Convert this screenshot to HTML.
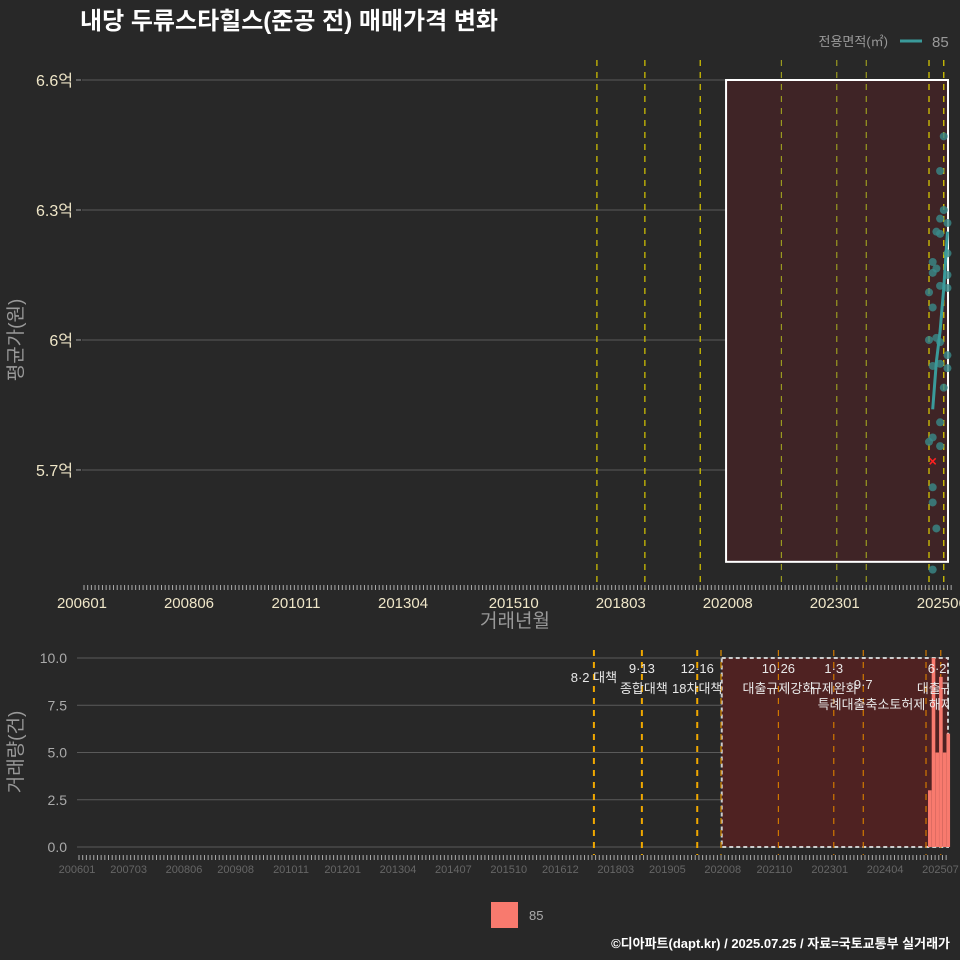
<!DOCTYPE html>
<html><head><meta charset="utf-8">
<style>
html,body{margin:0;padding:0;background:#282828;}
svg{display:block;font-family:"Liberation Sans","Noto Sans CJK KR",sans-serif;}
</style></head>
<body>
<svg id="c" width="960" height="960" viewBox="0 0 960 960">
<rect x="0" y="0" width="960" height="960" fill="#282828"/>
<text x="80" y="29" fill="#ffffff" font-size="24" font-weight="bold">내당 두류스타힐스(준공 전) 매매가격 변화</text>
<g>
<text x="888" y="46" fill="#999" font-size="13" text-anchor="end">전용면적(㎡)</text>
<line x1="900" y1="41" x2="922" y2="41" stroke="#3a9a9a" stroke-width="3"/>
<text x="932" y="47" fill="#999" font-size="15">85</text>
</g>
<g id="top"></g>
<g id="bot"></g>
<g>
<rect x="491" y="902" width="27" height="26" fill="#f87a6e"/>
<text x="529" y="920" fill="#aaa" font-size="13">85</text>
</g>
<text x="950" y="948" fill="#ffffff" font-size="13" font-weight="bold" text-anchor="end">©디아파트(dapt.kr) / 2025.07.25 / 자료=국토교통부 실거래가</text>
</svg>
<script>
// ---- data ----
const priceMonths = ["202506","202505","202506","202505","202507","202504","202505","202507","202503","202504","202503","202507","202505","202507","202502","202503","202502","202504","202505","202503","202505","202507","202507","202506","202505","202503","202502","202505","202503","202503","202504","202503"];
const priceValues = [6.47,6.39,6.30,6.28,6.27,6.25,6.245,6.20,6.18,6.165,6.155,6.15,6.125,6.12,6.11,6.075,6.0,6.005,5.995,5.94,5.945,5.965,5.935,5.89,5.81,5.775,5.765,5.755,5.66,5.625,5.565,5.47];
const cancelMonths = ["202503"];
const cancelValues = [5.72];
const trendMonths = ["202503","202504","202505","202506","202507"];
const trendValues = [5.84,5.95,6.02,6.12,6.25];
const volMonths = ["202502","202503","202504","202505","202506","202507"];
const volValues = [3,10,5,9,5,6];
const priceTicks = [5.7,6.0,6.3,6.6];
const priceTickLabels = ["5.7억","6억","6.3억","6.6억"];
const topXLabels = ["200601","200806","201011","201304","201510","201803","202008","202301","202506"];
const botXLabels = ["200601","200703","200806","200908","201011","201201","201304","201407","201510","201612","201803","201905","202008","202110","202301","202404","202507"];
const volTicks = [0,2.5,5,7.5,10];
const volTickLabels = ["0.0","2.5","5.0","7.5","10.0"];
const policyMonths = ["201708","201809","201912","202110","202301","202309","202502","202506"];
const policyTop = ["8·2","9·13","12·16","10·26","1·3","9·7","","6·27"];
const policyBottom = ["대책","종합대책","18차대책","대출규제강화","규제완화","특례대출축소토허제 해제","","대출규제"];

const NS="http://www.w3.org/2000/svg";
function el(parent,tag,attrs,text){const e=document.createElementNS(NS,tag);for(const k in attrs)e.setAttribute(k,attrs[k]);if(text!==undefined)e.textContent=text;parent.appendChild(e);return e;}
function idx(m){return (parseInt(m.slice(0,4))-2006)*12+(parseInt(m.slice(4))-1);}
const topG=document.getElementById('top'), botG=document.getElementById('bot');
const xT=m=>84+idx(m)*3.69;
const yT=v=>80+(6.6-v)*433.3;
const xB=m=>80+idx(m)*3.69;
const yB=v=>847-v*18.9;

// ---- top panel ----
priceTicks.forEach((t,i)=>{
  const g=el(topG,'line',{x1:82,x2:948,y1:yT(t),y2:yT(t),stroke:'#5a5a5a','stroke-width':1});
  
  
  const tk=el(topG,'line',{x1:76,x2:81,y1:yT(t),y2:yT(t),stroke:'#999'});
  
  
  const lb=el(topG,'text',{x:73,y:yT(t)+6,fill:'#efe6c8','font-size':16,'text-anchor':'end'},priceTickLabels[i]);
  
  
});
const rT=el(topG,'rect',{x:xT('202007'),y:yT(6.6),width:948-xT('202007'),height:yT(5.488)-yT(6.6),fill:'#3f2426',stroke:'#ffffff','stroke-width':2});


policyMonths.forEach((m,i)=>{
  const c=i<3?'#d8c800':(i>=6?'#e0d000':'#9a9a20');
  const l=el(topG,'line',{x1:xT(m),x2:xT(m),y1:60,y2:590,stroke:c,'stroke-width':1.2,'stroke-dasharray':'6,6'});
  
  
});
for(let i=0;i<=235;i++){
  const t=el(topG,'line',{x1:84+i*3.69,x2:84+i*3.69,y1:585,y2:590,stroke:'#aaa','stroke-width':1});
  
  
}
topXLabels.forEach(m=>{
  const t=el(topG,'text',{x:xT(m)-2,y:608,fill:'#efe6c8','font-size':15,'text-anchor':'middle'},m);
  
  
});
priceMonths.forEach((m,i)=>{
  const c=el(topG,'circle',{cx:xT(m),cy:yT(priceValues[i]),r:4,fill:'#3a8a8a','fill-opacity':0.8});
  
  
});
cancelMonths.forEach((m,i)=>{
  const x=xT(m),y=yT(cancelValues[i]);
  const p=el(topG,'path',{d:`M${x-3} ${y-3}L${x+3} ${y+3}M${x+3} ${y-3}L${x-3} ${y+3}`,stroke:'#ff2020','stroke-width':1.5});
  
  
});
const tl=el(topG,'polyline',{points:trendMonths.map((m,i)=>xT(m)+','+yT(trendValues[i])).join(' '),fill:'none',stroke:'#3a9a9a','stroke-width':3});


const ax1=el(topG,'text',{x:515,y:627,fill:'#999','font-size':19,'text-anchor':'middle'},'거래년월');


const ay1=el(topG,'text',{x:0,y:0,fill:'#999','font-size':19,'text-anchor':'middle',transform:'translate(22,340) rotate(-90)'},'평균가(원)');



// ---- bottom panel ----
volTicks.forEach((t,i)=>{
  const g=el(botG,'line',{x1:77,x2:948,y1:yB(t),y2:yB(t),stroke:'#5a5a5a'});
  
  
  const lb=el(botG,'text',{x:67,y:yB(t)+5,fill:'#aaa','font-size':14,'text-anchor':'end'},volTickLabels[i]);
  
  
});
const rB=el(botG,'rect',{x:xB('202008')-4,y:yB(10),width:948-xB('202008')+4,height:yB(0)-yB(10),fill:'#4f2222',stroke:'#cccccc','stroke-width':2,'stroke-dasharray':'4,3'});


const extra=el(botG,'line',{x1:721,x2:721,y1:650,y2:855,stroke:'#e09000','stroke-width':1.2,'stroke-dasharray':'6,6'});


policyMonths.forEach((m,i)=>{
  const c=i<3?'#f0a800':'#d07800';
  const l=el(botG,'line',{x1:xB(m)+1,x2:xB(m)+1,y1:650,y2:855,stroke:c,'stroke-width':i<3?2:1.2,'stroke-dasharray':'6,6'});
  
  
});
volMonths.forEach((m,i)=>{
  const b=el(botG,'rect',{x:xB(m)+3,y:yB(volValues[i]),width:3.6,height:yB(0)-yB(volValues[i]),fill:'#f87a6e'});
  
  
});
const cp=el(botG,'clipPath',{id:'cp'});el(cp,'rect',{x:0,y:640,width:949,height:100});
const ann=el(botG,'g',{'clip-path':'url(#cp)',fill:'#e8e8e8','font-size':13,'text-anchor':'middle'});


const topY=[0,673,673,673,673,0,0,673], botY=[682,693,693,693,693,709,0,693];
policyMonths.forEach((m,i)=>{
  const x=xB(m)+1;
  if(i===0){const t=el(ann,'text',{x:x,y:682},'8·2 대책');return;}
  if(i===5){const t=el(ann,'text',{x:x,y:689},'9·7');
    const t2=el(ann,'text',{x:x+22,y:709},policyBottom[i]);return;}
  if(!policyTop[i])return;
  const a=el(ann,'text',{x:x,y:topY[i]},policyTop[i]);
  
  
  const b=el(ann,'text',{x:x+(i===1?2:0),y:botY[i]},policyBottom[i]);
  
  
});
for(let i=0;i<=235;i++){
  const t=el(botG,'line',{x1:79+i*3.69,x2:79+i*3.69,y1:855,y2:860,stroke:'#aaa'});
  
  
}
botXLabels.forEach(m=>{
  const t=el(botG,'text',{x:xB(m)-3,y:873,fill:'#666','font-size':11,'text-anchor':'middle'},m);
  
  
});
const ay2=el(botG,'text',{x:0,y:0,fill:'#999','font-size':19,'text-anchor':'middle',transform:'translate(22,752) rotate(-90)'},'거래량(건)');


</script>
</body></html>
